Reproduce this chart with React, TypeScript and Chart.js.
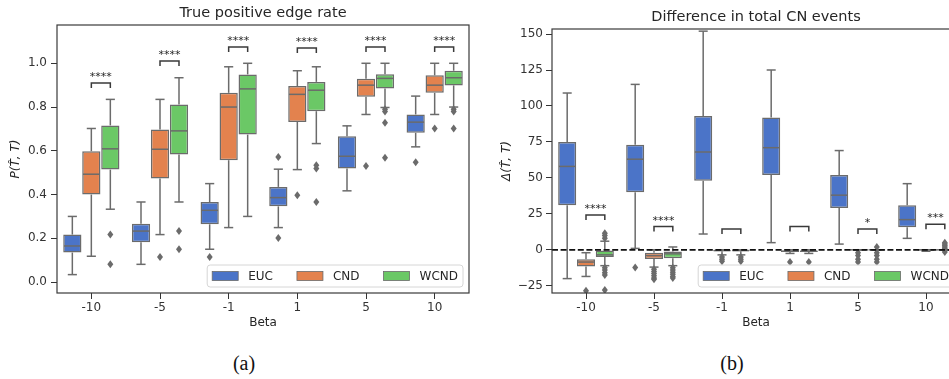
import React, { useEffect, useRef } from 'react';
import { Chart, registerables } from 'chart.js';

Chart.register(...registerables);

const FONT = 'DejaVu Sans';
const betas = ['-10', '-5', '-1', '1', '5', '10'];
const hues = ['EUC', 'CND', 'WCND'];
const hueColors = ['#4b74c8', '#e3824e', '#6bc866'];
const lineGray = '#6b6b6b';

// Panel (a) True positive edge rate: [whiskerLow, q1, median, q3, whiskerHigh] per beta
const tprEUC = [[0.034, 0.135, 0.165, 0.217, 0.30], [0.081, 0.182, 0.233, 0.266, 0.366], [0.15, 0.264, 0.328, 0.366, 0.45], [0.249, 0.346, 0.386, 0.435, 0.516], [0.417, 0.519, 0.575, 0.667, 0.714], [0.618, 0.682, 0.731, 0.766, 0.85]];
const tprCND = [[0.118, 0.40, 0.493, 0.598, 0.702], [0.217, 0.473, 0.607, 0.697, 0.835], [0.249, 0.557, 0.80, 0.865, 0.984], [0.514, 0.732, 0.858, 0.896, 0.966], [0.766, 0.847, 0.90, 0.929, 1.0], [0.766, 0.865, 0.90, 0.945, 1.0]];
const tprWCND = [[0.333, 0.514, 0.609, 0.716, 0.835], [0.366, 0.583, 0.691, 0.812, 0.934], [0.30, 0.674, 0.883, 0.949, 1.0], [0.633, 0.781, 0.877, 0.915, 0.984], [0.798, 0.885, 0.931, 0.95, 1.0], [0.80, 0.899, 0.934, 0.966, 1.0]];
const tprOutEUC = [[], [], [0.114], [0.572, 0.201], [], [0.548]];
const tprOutCND = [[], [0.114], [], [0.397], [0.531], [0.702]];
const tprOutWCND = [[0.217, 0.081], [0.233, 0.15], [], [0.534, 0.519, 0.366], [0.79, 0.78, 0.728, 0.568], [0.79, 0.78, 0.702]];
const tprTicks = [0, 0.2, 0.4, 0.6, 0.8, 1.0];
const tprTickLabels = ['0.0', '0.2', '0.4', '0.6', '0.8', '1.0'];
const tprBracket = [0.91, 1.01, 1.075, 1.07, 1.075, 1.075];
const tprStars = ['****', '****', '****', '****', '****', '****'];

// Panel (b) Difference in total CN events
const cnEUC = [[-20, 31, 58, 75, 109], [1, 40, 63, 73, 115], [11, 48, 68, 93, 152], [5, 52, 71, 92, 125], [4, 29, 38, 52, 69], [8, 15.7, 21, 31, 46]];
const cnCND = [[-18.5, -11.5, -8.5, -6.5, -2], [-12, -6.3, -4, -2, 0], [-3.5, -1, -0.5, 0, 0], [-2.5, -1.5, -1, -0.5, 0], [0, 0, 0, 0, 0], [-1, -0.5, 0, 0, 0]];
const cnWCND = [[-11, -5, -3.5, -0.5, 6], [-11, -5.8, -2.8, -1.2, 2], [-3.5, -1, -0.5, 0, 0], [-2.5, -1.5, -1, -0.5, 0], [0, 0, 0, 0, 0], [0, 0, 0, 0, 0]];
const cnOutEUC = [[], [-12.3], [], [], [], []];
const cnOutCND = [[-28.5], [-13.5, -15, -16.5, -18, -19.5, -20.5], [-5, -6.5, -8], [-8.5], [-2, -4, -6.5, -8.5], []];
const cnOutWCND = [[8, 10, 11.5, -12.5, -14, -16, -17.5, -28], [-12.5, -14, -15.5, -17, -18.5, -19.5], [-5, -6.5, -8], [-8.5], [2, -2, -4, -6.5, -8.5], [1, 2, 3, 4, 5, -1.5]];
const cnTicks = [-25, 0, 25, 50, 75, 100, 125, 150];
const cnTickLabels = ['\u221225', '0', '25', '50', '75', '100', '125', '150'];
const cnBracket = [24.3, 16.2, 14.4, 16.2, 14.4, 17.8];
const cnStars = ['****', '****', '', '', '*', '***'];

type Panel = {
  key: string;
  title: string;
  yTitle: string;
  stats: number[][][];
  outliers: number[][][];
  ticks: number[];
  tickLabels: string[];
  bracket: number[];
  stars: string[];
  yMin: number;
  yMax: number;
  yWidth: number;
  yTitleTop: number;
  yTickPad: number;
  titleTop: number;
  titleBottom: number;
  zeroLine: boolean;
};

const panelA: Panel = {
  key: 'a', title: 'True positive edge rate', yTitle: 'P(T\u0302, T)',
  stats: [tprEUC, tprCND, tprWCND], outliers: [tprOutEUC, tprOutCND, tprOutWCND],
  ticks: tprTicks, tickLabels: tprTickLabels, bracket: tprBracket, stars: tprStars,
  yMin: -0.05, yMax: 1.175, yWidth: 57, yTitleTop: 8.5, yTickPad: 4,
  titleTop: 4.6, titleBottom: 3.0, zeroLine: false,
};

const panelB: Panel = {
  key: 'b', title: 'Difference in total CN events', yTitle: '\u0394(T\u0302, T)',
  stats: [cnEUC, cnCND, cnWCND], outliers: [cnOutEUC, cnOutCND, cnOutWCND],
  ticks: cnTicks, tickLabels: cnTickLabels, bracket: cnBracket, stars: cnStars,
  yMin: -30, yMax: 153.5, yWidth: 77, yTitleTop: 25, yTickPad: 3,
  titleTop: 8.8, titleBottom: 2.8, zeroLine: true,
};

function makePlugin(p: Panel) {
  return {
    id: 'boxplot_' + p.key,
    afterDatasetsDraw(chart: any) {
      const ctx: CanvasRenderingContext2D = chart.ctx;
      const ys = chart.scales.y;
      const area = chart.chartArea;
      const Y = (v: number) => ys.getPixelForValue(v);
      ctx.save();
      ctx.beginPath();
      ctx.rect(area.left, area.top, area.right - area.left, area.bottom - area.top);
      ctx.clip();
      const seg = (x1: number, y1: number, x2: number, y2: number) => {
        ctx.beginPath();
        ctx.moveTo(x1, y1);
        ctx.lineTo(x2, y2);
        ctx.stroke();
      };
      ctx.strokeStyle = lineGray;
      ctx.lineWidth = 1.5;
      p.stats.forEach((series, di) => {
        const meta = chart.getDatasetMeta(di);
        series.forEach((s, i) => {
          const el = meta.data[i];
          const x = el.x;
          const w = el.width;
          const [lo, q1, med, q3, hi] = s;
          seg(x, Y(q3), x, Y(hi));
          seg(x, Y(q1), x, Y(lo));
          seg(x - w / 4, Y(hi), x + w / 4, Y(hi));
          seg(x - w / 4, Y(lo), x + w / 4, Y(lo));
          seg(x - w / 2 + 0.75, Y(med), x + w / 2 - 0.75, Y(med));
        });
      });
      // outliers
      ctx.fillStyle = lineGray;
      p.outliers.forEach((series, di) => {
        const meta = chart.getDatasetMeta(di);
        series.forEach((vals, i) => {
          const x = meta.data[i].x;
          vals.forEach((v) => {
            const y = Y(v);
            ctx.beginPath();
            ctx.moveTo(x, y - 4);
            ctx.lineTo(x + 3, y);
            ctx.lineTo(x, y + 4);
            ctx.lineTo(x - 3, y);
            ctx.closePath();
            ctx.fill();
          });
        });
      });
      if (p.zeroLine) {
        ctx.strokeStyle = '#111';
        ctx.lineWidth = 1.6;
        ctx.setLineDash([6, 2.6]);
        seg(area.left, Y(0), area.right, Y(0));
        ctx.setLineDash([]);
      }
      ctx.restore();
      // significance brackets
      ctx.save();
      const m1 = chart.getDatasetMeta(1);
      const m2 = chart.getDatasetMeta(2);
      ctx.strokeStyle = '#3a3a3a';
      ctx.lineWidth = 1.5;
      ctx.fillStyle = '#262626';
      ctx.font = `11px "${FONT}"`;
      ctx.textAlign = 'center';
      ctx.textBaseline = 'alphabetic';
      p.bracket.forEach((b, i) => {
        const x1 = m1.data[i].x;
        const x2 = m2.data[i].x;
        const yb = Y(b);
        ctx.beginPath();
        ctx.moveTo(x1, yb + 5);
        ctx.lineTo(x1, yb);
        ctx.lineTo(x2, yb);
        ctx.lineTo(x2, yb + 5);
        ctx.stroke();
        if (p.stars[i]) ctx.fillText(p.stars[i], (x1 + x2) / 2, yb - 3);
      });
      ctx.restore();
    },
    afterDraw(chart: any) {
      const ctx: CanvasRenderingContext2D = chart.ctx;
      const area = chart.chartArea;
      ctx.save();
      // frame
      ctx.strokeStyle = '#3a3a3a';
      ctx.lineWidth = 1.2;
      ctx.strokeRect(area.left, area.top, area.right - area.left, area.bottom - area.top);
      // legend
      ctx.font = `12px "${FONT}"`;
      const pad = 5, patchW = 26, patchH = 9, gap = 10, colSp = 24, h = 22;
      const widths = hues.map((t) => ctx.measureText(t).width);
      const total = pad * 2 + hues.length * (patchW + gap) + widths.reduce((a, b) => a + b, 0) + colSp * (hues.length - 1);
      const right = area.right - 6;
      const bottom = area.bottom - 6;
      const left = right - total;
      const top = bottom - h;
      ctx.beginPath();
      (ctx as any).roundRect(left, top, total, h, 3);
      ctx.fillStyle = 'rgba(255,255,255,0.85)';
      ctx.fill();
      ctx.strokeStyle = '#d6d6d6';
      ctx.lineWidth = 1;
      ctx.stroke();
      const cy = top + h / 2;
      let x = left + pad;
      ctx.textBaseline = 'middle';
      ctx.textAlign = 'left';
      hues.forEach((t, k) => {
        ctx.fillStyle = hueColors[k];
        ctx.fillRect(x, cy - patchH / 2, patchW, patchH);
        ctx.strokeStyle = lineGray;
        ctx.lineWidth = 0.8;
        ctx.strokeRect(x, cy - patchH / 2, patchW, patchH);
        ctx.fillStyle = '#262626';
        ctx.fillText(t, x + patchW + gap, cy + 0.5);
        x += patchW + gap + widths[k] + colSp;
      });
      ctx.restore();
    },
  };
}

function buildConfig(p: Panel, padRight: number): any {
  return {
    type: 'bar',
    data: {
      labels: betas,
      datasets: hues.map((h, k) => ({
        label: h,
        data: p.stats[k].map((s) => [s[1], s[3]]),
        backgroundColor: hueColors[k],
        borderColor: lineGray,
        borderWidth: 1.5,
        borderSkipped: false,
        categoryPercentage: 0.83,
        barPercentage: 0.96,
      })),
    },
    options: {
      responsive: false,
      maintainAspectRatio: false,
      animation: false,
      events: [],
      layout: { padding: { left: 0, right: padRight, top: 0, bottom: 0 } },
      plugins: {
        legend: { display: false },
        tooltip: { enabled: false },
        title: {
          display: true,
          text: p.title,
          fullSize: false,
          color: '#262626',
          font: { family: FONT, size: 14.5, weight: 'normal', lineHeight: 1.2 },
          padding: { top: p.titleTop, bottom: p.titleBottom },
        },
      },
      scales: {
        x: {
          grid: { display: true, drawOnChartArea: false, offset: false, tickLength: 6, tickColor: '#333', tickWidth: 1 },
          border: { display: false },
          ticks: { color: '#333', font: { family: FONT, size: 12 }, padding: 2, maxRotation: 0, autoSkip: false },
          title: { display: true, text: 'Beta', color: '#262626', font: { family: FONT, size: 12 }, padding: { top: 0, bottom: 9.8 } },
          afterFit: (s: any) => { s.height = 47; },
        },
        y: {
          min: p.yMin,
          max: p.yMax,
          afterBuildTicks: (s: any) => { s.ticks = p.ticks.map((v) => ({ value: v })); },
          grid: { display: true, drawOnChartArea: false, tickLength: 6, tickColor: '#333', tickWidth: 1 },
          border: { display: false },
          ticks: {
            color: '#333',
            font: { family: FONT, size: 12 },
            padding: p.yTickPad,
            callback: (v: number) => {
              const i = p.ticks.indexOf(v);
              return i >= 0 ? p.tickLabels[i] : '';
            },
          },
          title: { display: true, text: p.yTitle, color: '#262626', font: { family: FONT, size: 12, style: 'italic' }, padding: { top: p.yTitleTop, bottom: 0 } },
          afterFit: (s: any) => { s.width = p.yWidth; },
        },
      },
    },
    plugins: [makePlugin(p)],
  };
}

function PanelChart({ panel, left, width, height, padRight }: { panel: Panel; left: number; width: number; height: number; padRight: number }) {
  const ref = useRef<HTMLCanvasElement>(null);
  useEffect(() => {
    const chart = new Chart(ref.current as HTMLCanvasElement, buildConfig(panel, padRight));
    return () => chart.destroy();
  }, []);
  return (
    <canvas
      ref={ref}
      width={width}
      height={height}
      style={{ position: 'absolute', left, top: 0, width, height }}
    />
  );
}

const captionStyle: React.CSSProperties = {
  position: 'absolute',
  top: 350,
  width: 60,
  textAlign: 'center',
  fontFamily: '"Liberation Serif", "DejaVu Serif", serif',
  fontSize: 20,
  lineHeight: '26px',
  color: '#111',
};

export default function App() {
  return (
    <div style={{ position: 'fixed', left: 0, top: 0, width: 949, height: 379, overflow: 'hidden', background: '#fff' }}>
      <PanelChart panel={panelA} left={0} width={475} height={340} padRight={6} />
      <PanelChart panel={panelB} left={475} width={491} height={340} padRight={6} />
      <div style={{ ...captionStyle, left: 244 - 30 }}>(a)</div>
      <div style={{ ...captionStyle, left: 732 - 30 }}>(b)</div>
    </div>
  );
}
